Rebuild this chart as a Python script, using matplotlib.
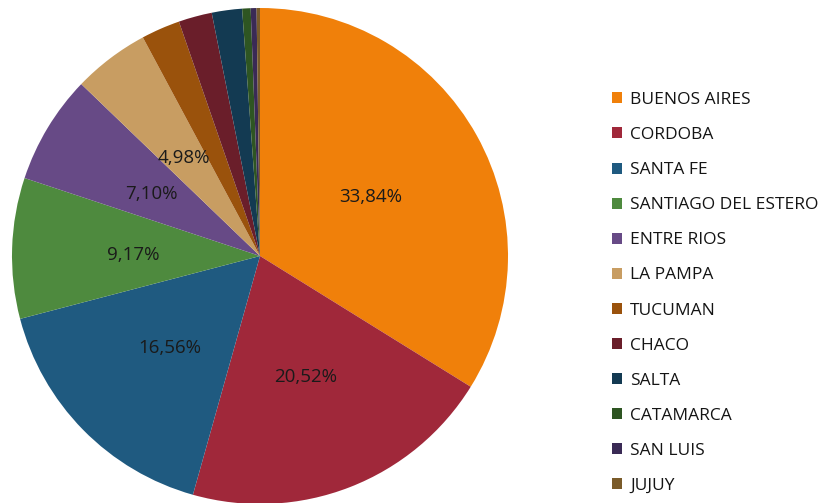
import matplotlib
matplotlib.use("Agg")
import matplotlib.pyplot as plt
from matplotlib.patches import Patch
import numpy as np

provinces = ["BUENOS AIRES", "CORDOBA", "SANTA FE", "SANTIAGO DEL ESTERO",
             "ENTRE RIOS", "LA PAMPA", "TUCUMAN", "CHACO", "SALTA",
             "CATAMARCA", "SAN LUIS", "JUJUY"]
shares = [33.84, 20.52, 16.56, 9.17, 7.10, 4.98, 2.53, 2.18, 1.97, 0.55, 0.38, 0.22]
colors = ["#F0800A", "#A0283A", "#1F5A80", "#4E8A3E", "#674A86", "#C89D62",
          "#9A520C", "#6A1E2A", "#133A52", "#2E5522", "#3A2A55", "#7A5B2A"]
shown_labels = 6  # only the six largest slices carry labels

plt.rcParams['font.family'] = ['Open Sans', 'DejaVu Sans']

fig = plt.figure(figsize=(8.39, 5.03), dpi=100)
W, H = 839, 503
cx, cy, R = 260, 256, 248
ax = fig.add_axes([(cx - R) / W, (H - cy - R) / H, 2 * R / W, 2 * R / H])

wedges, texts = ax.pie(shares, colors=colors, startangle=90, counterclock=False,
                       wedgeprops=dict(linewidth=0), radius=1)
total = sum(shares)
cum = 0
for i, s in enumerate(shares):
    mid = (cum + s / 2) / total * 360
    cum += s
    if i < shown_labels:
        ang = np.deg2rad(90 - mid)
        d = 0.51
        ax.text(d * np.cos(ang), d * np.sin(ang) - 0.012, f"{s:.2f}%".replace(".", ","),
                ha="center", va="center", fontsize=13.5, color="#1a1a1a")
ax.set_xlim(-1, 1)
ax.set_ylim(-1, 1)
ax.set_aspect("equal")
ax.axis("off")

handles = [Patch(facecolor=c, edgecolor="none") for c in colors]
leg = fig.legend(handles, provinces, loc="upper left", bbox_to_anchor=(612 / W, 1 - 92 / H),
                 frameon=False, fontsize=12.5, handlelength=0.6, handleheight=0.6,
                 handletextpad=0.45, labelspacing=1.1, borderaxespad=0, borderpad=0)
for t in leg.get_texts():
    t.set_color("#141414")

fig.savefig("out.png", dpi=100)
